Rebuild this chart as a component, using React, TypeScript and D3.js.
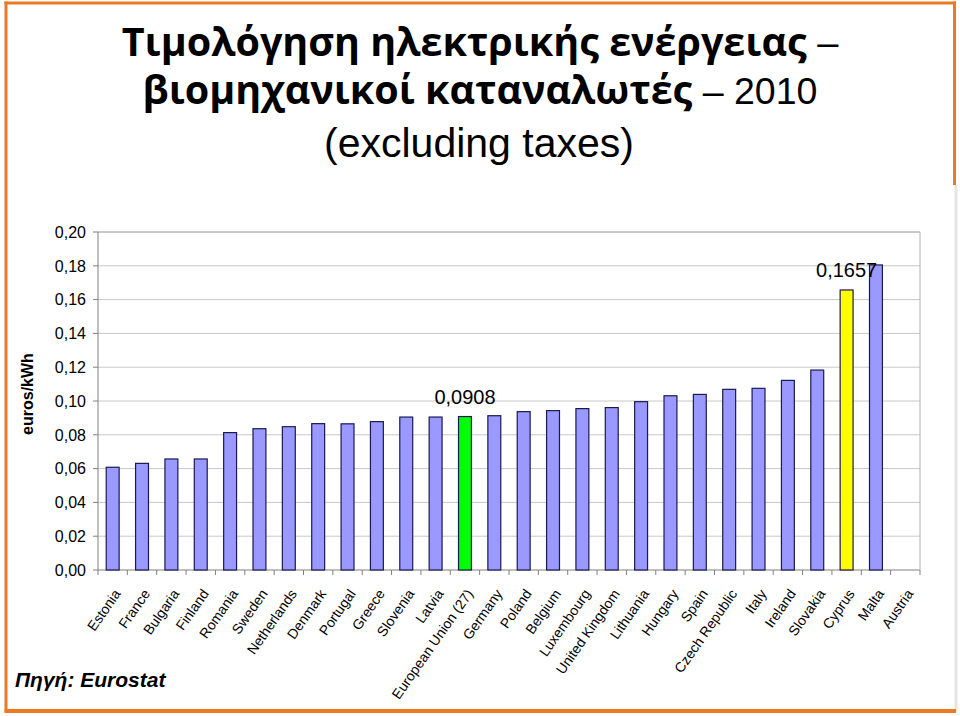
import React from "react";
import * as d3 from "d3";

const categories = [
  "Estonia", "France", "Bulgaria", "Finland", "Romania", "Sweden", "Netherlands",
  "Denmark", "Portugal", "Greece", "Slovenia", "Latvia", "European Union (27)",
  "Germany", "Poland", "Belgium", "Luxembourg", "United Kingdom", "Lithuania",
  "Hungary", "Spain", "Czech Republic", "Italy", "Ireland", "Slovakia", "Cyprus",
  "Malta", "Austria",
];
const values: (number | null)[] = [
  0.0608, 0.0631, 0.0657, 0.0657, 0.0813, 0.0836, 0.0848,
  0.0866, 0.0865, 0.0878, 0.0905, 0.0905, 0.0908,
  0.0913, 0.0937, 0.0943, 0.0955, 0.0961, 0.0996,
  0.1031, 0.1039, 0.1069, 0.1075, 0.1122, 0.1183, 0.1657,
  0.1805, null,
];
const highlightCategories = ["European Union (27)", "Cyprus"];
const highlightColors = ["#00FF00", "#FFFF00"];
const labelCategories = ["European Union (27)", "Cyprus"];
const labelTexts = ["0,0908", "0,1657"];
const yTicks = [0, 0.02, 0.04, 0.06, 0.08, 0.1, 0.12, 0.14, 0.16, 0.18, 0.2];
const titleLine1Bold = "Τιμολόγηση ηλεκτρικής ενέργειας";
const titleLine1Rest = " –";
const titleLine2Bold = "βιομηχανικοί καταναλωτές";
const titleLine2Rest = " – 2010";
const titleLine3 = "(excluding taxes)";
const yAxisTitle = "euros/kWh";
const sourceText = "Πηγή: Eurostat";

const W = 960, H = 716;
const left = 98, right = 920, top = 232, bottom = 570;
const ARIAL = "'Liberation Sans', Arial, sans-serif";
const GREEK = "'Open Sans', 'Noto Sans', sans-serif";
const ORANGE = "#EC7A24";

export default function App() {
  const x = d3.scaleBand<string>().domain(categories).range([left, right]).paddingInner(0.56).paddingOuter(0.28);
  const y = d3.scaleLinear().domain([0, 0.2]).range([bottom, top]);
  const step = x.step();
  const fmt = (v: number) => d3.format(".2f")(v).replace(".", ",");

  return (
    <svg width={W} height={H} style={{ position: "absolute", left: 0, top: 0, background: "#fff" }}>
      <rect x={0} y={0} width={W} height={H} fill="#fff" />
      {/* title */}
      <text x={480} y={56} textAnchor="middle" fontSize={39.5} fill="#000">
        <tspan fontFamily={GREEK} fontWeight="bold">{titleLine1Bold}</tspan>
        <tspan fontFamily={ARIAL} fontSize={38}>{titleLine1Rest}</tspan>
      </text>
      <text x={480} y={104} textAnchor="middle" fontSize={39.5} fill="#000">
        <tspan fontFamily={GREEK} fontWeight="bold">{titleLine2Bold}</tspan>
        <tspan fontFamily={ARIAL} fontSize={37.5}>{titleLine2Rest}</tspan>
      </text>
      <text x={479} y={157} textAnchor="middle" fontSize={41} fontFamily={ARIAL} fill="#000">
        {titleLine3}
      </text>

      {/* gridlines */}
      {yTicks.map((t) => (
        <line key={"g" + t} x1={left} x2={right} y1={y(t)} y2={y(t)} stroke={t === 0 ? "#808080" : "#c8c8c8"} strokeWidth={1} />
      ))}
      <line x1={right} x2={right} y1={top} y2={bottom} stroke="#b0b0b0" />
      <line x1={left} x2={right} y1={top} y2={top} stroke="#b0b0b0" />
      <line x1={left} x2={left} y1={top} y2={bottom} stroke="#808080" />
      {/* y ticks */}
      {yTicks.map((t) => (
        <g key={"t" + t}>
          <line x1={left - 5} x2={left} y1={y(t)} y2={y(t)} stroke="#808080" />
          <text x={86} y={y(t)} dy="0.36em" textAnchor="end" fontSize={16} fontFamily={ARIAL} fill="#000">
            {fmt(t)}
          </text>
        </g>
      ))}
      {/* x ticks */}
      {d3.range(categories.length + 1).map((i) => (
        <line key={"xt" + i} x1={left + step * i} x2={left + step * i} y1={bottom} y2={bottom + 5} stroke="#808080" />
      ))}
      {/* bars */}
      {categories.map((c, i) => {
        const v = values[i];
        if (v == null) return null;
        const hi = highlightCategories.indexOf(c);
        return (
          <rect
            key={c}
            x={x(c)!}
            y={y(v)}
            width={x.bandwidth()}
            height={y(0) - y(v)}
            fill={hi >= 0 ? highlightColors[hi] : "#9999FF"}
            stroke="#1a1a50"
            strokeWidth={1.2}
          />
        );
      })}
      {/* data labels */}
      {labelCategories.map((c, k) => {
        const i = categories.indexOf(c);
        const v = values[i] as number;
        return (
          <text key={"l" + c} x={x(c)! + x.bandwidth() / 2} y={y(v) - 13} textAnchor="middle" fontSize={20} fontFamily={ARIAL} fill="#000">
            {labelTexts[k]}
          </text>
        );
      })}
      {/* x labels */}
      {categories.map((c) => {
        const cx = x(c)! + x.bandwidth() / 2;
        return (
          <text
            key={"xl" + c}
            transform={`translate(${cx + 0.5},${588}) rotate(-55)`}
            dy="0.71em"
            textAnchor="end"
            fontSize={14}
            fontFamily={ARIAL}
            fill="#000"
          >
            {c}
          </text>
        );
      })}
      {/* y axis title */}
      <text transform={`translate(33,394) rotate(-90)`} textAnchor="middle" fontSize={16} fontWeight="bold" fontFamily={ARIAL} fill="#000">
        {yAxisTitle}
      </text>
      {/* source */}
      <text x={15} y={687} fontSize={21} fontWeight="bold" fontStyle="italic" fontFamily={ARIAL} fill="#000">
        {sourceText}
      </text>
      {/* frame */}
      <line x1={6} x2={6} y1={1.5} y2={712} stroke={ORANGE} strokeWidth={3} />
      <line x1={4.5} x2={956} y1={3} y2={3} stroke={ORANGE} strokeWidth={3} />
      <line x1={954.5} x2={954.5} y1={1.5} y2={185} stroke={ORANGE} strokeWidth={3} />
      <line x1={956} x2={956} y1={185} y2={712} stroke="#e4e4e0" strokeWidth={3} />
      <line x1={4.5} x2={956} y1={711} y2={711} stroke={ORANGE} strokeWidth={4} />
    </svg>
  );
}
